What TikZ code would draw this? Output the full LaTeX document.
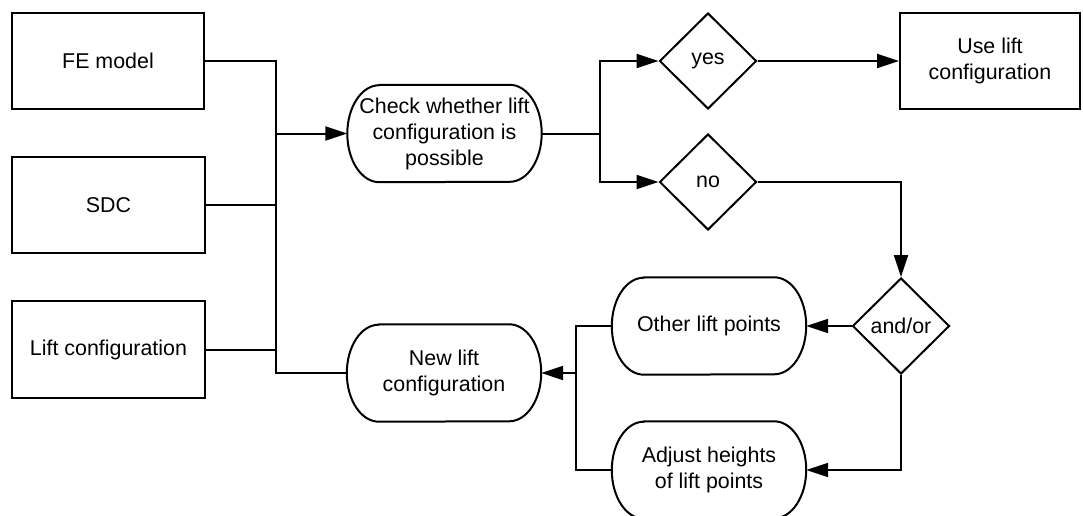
\documentclass[tikz,border=0pt]{standalone}
\usepackage{fontspec}
\setmainfont{Liberation Sans}
\usetikzlibrary{shapes.geometric,arrows.meta,calc}

\tikzset{
  line/.style={line width=2pt, line join=miter},
  arr/.style={line, -{Triangle[length=22pt,width=14pt]}},
  box/.style={draw, line width=2pt, rectangle, align=center, inner sep=0pt},
  stadium/.style={align=center, inner sep=0pt, minimum width=194pt, minimum height=97pt},
  decision/.style={draw, line width=2pt, diamond, aspect=1, inner sep=0pt,
                   minimum width=97pt, minimum height=96pt},
  every node/.style={font=\fontsize{21.4}{26}\selectfont},
}

\begin{document}
\begin{tikzpicture}[x=1pt, y=-1pt]
  \useasboundingbox (0,0) rectangle (1083,516);

  % inputs
  \node[box, minimum width=192pt, minimum height=96pt] (fe)   at (108,61)    {FE model};
  \node[box, minimum width=193pt, minimum height=96pt] (sdc)  at (108.5,205) {SDC};
  \node[box, minimum width=193pt, minimum height=97pt] (lift) at (108.5,349.5) {Lift configuration};

  % process steps (drawn as stadium outlines below)
  \node[stadium] (check)   at (444.5,133.5) {Check whether lift\\configuration is\\possible};
  \node[stadium] (newlift) at (444,373)     {New lift\\configuration};
  \node[stadium] (other)   at (709,326)     {Other lift points};
  \node[stadium] (adjust)  at (709,470)     {Adjust heights\\of lift points};

  % decisions
  \node[decision] (yes)   at (708,61)  {yes};
  \node[decision] (no)    at (708,182) {no};
  \node[decision] (andor) at (901,326) {and/or};

  % result
  \node[box, minimum width=180pt, minimum height=96pt] (use) at (990,61) {Use lift\\configuration};

  % stadium outlines with elliptic ends
  \foreach \n in {check,newlift,other,adjust}{
    \draw[line]
      ([xshift=32pt]\n.north west) -- ([xshift=-32pt]\n.north east)
      arc[start angle=90, end angle=-90, x radius=32pt, y radius=48.5pt]
      -- ([xshift=32pt]\n.south west)
      arc[start angle=270, end angle=90, x radius=32pt, y radius=48.5pt]
      -- cycle;
  }

  % junction points
  \coordinate (jt) at (276,61);
  \coordinate (jb) at (276,373);
  \coordinate (split) at (600,133.5);
  \coordinate (merge) at (576,373);

  % inputs to the bus
  \draw[line] (fe.east) -- (jt) -- (jb) -- (newlift.west);
  \draw[line] (sdc.east) -- (sdc.east -| jt);
  \draw[line] (lift.east) -- (lift.east -| jt);
  \draw[arr] (check.west -| jt) -- (check.west);

  % check outcome
  \draw[line] (check.east) -- (split);
  \draw[arr] (split) |- (yes.west);
  \draw[arr] (split) |- (no.west);
  \draw[arr] (yes.east) -- (use.west);
  \draw[arr] (no.east) -| (andor.north);

  % alternatives
  \draw[arr] (andor.west) -- (other.east);
  \draw[arr] (andor.south) |- (adjust.east);
  \draw[line] (other.west) -| (adjust.west -| merge) -- (adjust.west);
  \draw[arr] (merge) -- (newlift.east);
\end{tikzpicture}
\end{document}
